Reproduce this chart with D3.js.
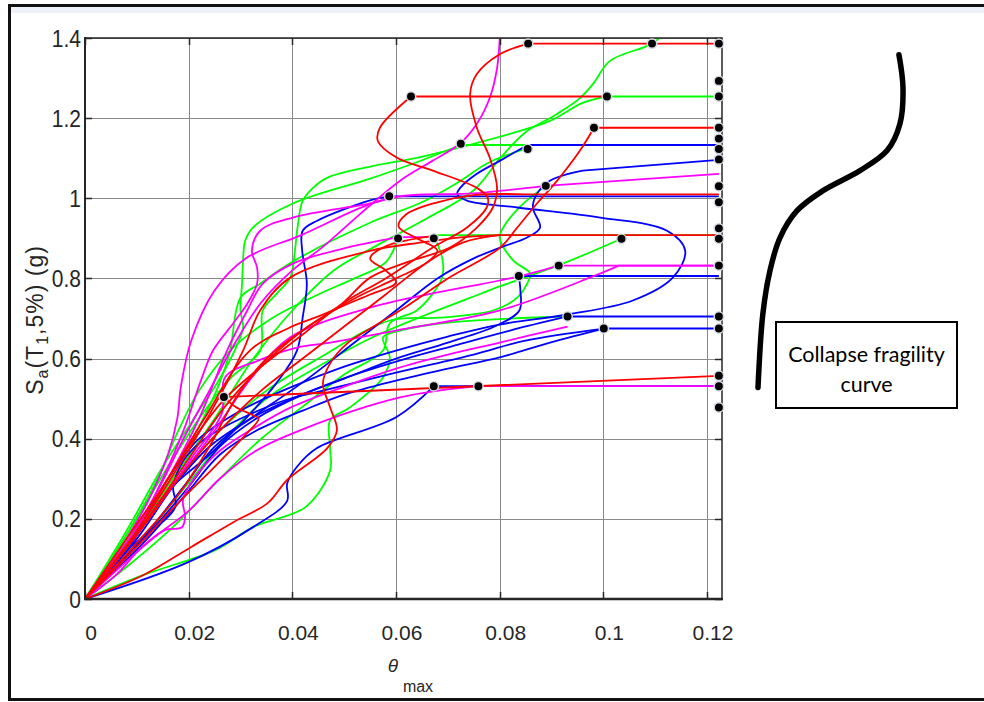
<!DOCTYPE html>
<html>
<head>
<meta charset="utf-8">
<script src="https://cdn.jsdelivr.net/npm/d3@7"></script>
<style>
  body { margin: 0; background: #fff; }
  svg { display: block; }
  .tick-label { font-family: "Liberation Sans", Arial, sans-serif; fill: #262626; }
</style>
</head>
<body>
<div id="chart"></div>
<script>
// Axis ticks
var xTicks = [0, 0.02, 0.04, 0.06, 0.08, 0.1, 0.12],
    xTickLabels = ["0", "0.02", "0.04", "0.06", "0.08", "0.1", "0.12"],
    yTicks = [0, 0.2, 0.4, 0.6, 0.8, 1.0, 1.2, 1.4],
    yTickLabels = ["0", "0.2", "0.4", "0.6", "0.8", "1", "1.2", "1.4"];

// IDA curves [theta_max, Sa(g)]
var g1 = [[0,0],[0.009,0.18],[0.016,0.33],[0.022,0.45],[0.028,0.55],[0.0338,0.62],[0.0343,0.72],[0.037,0.762],[0.0396,0.802],[0.0405,0.869],[0.041,0.927],[0.042,0.994],[0.044,1.026],[0.0467,1.051],[0.055,1.079],[0.064,1.101],[0.072,1.126],[0.082,1.161],[0.0897,1.193],[0.096,1.238],[0.1007,1.254],[0.1223,1.254]];
var g2 = [[0,0],[0.008,0.17],[0.015,0.33],[0.021,0.45],[0.026,0.55],[0.0295,0.638],[0.0305,0.678],[0.03,0.72],[0.0303,0.787],[0.0305,0.845],[0.0309,0.894],[0.0324,0.927],[0.0401,0.987],[0.055,1.049],[0.064,1.09],[0.0725,1.133],[0.1223,1.133]];
var g3 = [[0,0],[0.01,0.17],[0.018,0.32],[0.025,0.45],[0.0325,0.6],[0.04,0.72],[0.048,0.82],[0.056,0.88],[0.066,0.95],[0.075,1.02],[0.0801,1.1],[0.085,1.165],[0.091,1.21],[0.0955,1.25],[0.098,1.285],[0.1013,1.343],[0.1094,1.386],[0.1125,1.42]];
var g4 = [[0,0],[0.009,0.16],[0.016,0.3],[0.022,0.43],[0.026,0.54],[0.028,0.62],[0.03,0.752],[0.0338,0.787],[0.0401,0.842],[0.055,0.939],[0.065,0.99],[0.072,1.04],[0.078,1.09],[0.0854,1.125]];
var g5 = [[0,0],[0.008,0.08],[0.017,0.18],[0.026,0.3],[0.034,0.4],[0.042,0.48],[0.05,0.56],[0.0575,0.62],[0.0588,0.688],[0.064,0.72],[0.0671,0.762],[0.0689,0.802],[0.069,0.845],[0.0673,0.908],[0.1223,0.908]];
var g6 = [[0,0],[0.011,0.15],[0.02,0.29],[0.027,0.4],[0.035,0.5],[0.045,0.58],[0.055,0.65],[0.065,0.705],[0.074,0.75],[0.08,0.78],[0.0914,0.833],[0.1035,0.899]];
var g7 = [[0,0],[0.01,0.16],[0.018,0.3],[0.026,0.42],[0.035,0.52],[0.045,0.6],[0.0588,0.695],[0.0685,0.702],[0.0787,0.72],[0.0834,0.752],[0.0853,0.787],[0.0859,0.812],[0.0826,0.845],[0.08,0.902],[0.0807,0.927],[0.084,0.98],[0.0889,1.031]];
var g8 = [[0,0],[0.0113,0.06],[0.0251,0.122],[0.0325,0.18],[0.0426,0.23],[0.0473,0.321],[0.0473,0.376],[0.0473,0.446],[0.0511,0.478],[0.0575,0.553],[0.0588,0.603],[0.0575,0.653],[0.0608,0.67],[0.07,0.69],[0.0931,0.705]];
var g9 = [[0,0],[0.008,0.16],[0.014,0.3],[0.018,0.42],[0.022,0.52],[0.028,0.62],[0.036,0.7],[0.045,0.76],[0.052,0.8],[0.058,0.84],[0.0604,0.9]];

var b1 = [[0,0],[0.009,0.15],[0.016,0.3],[0.022,0.4],[0.03,0.47],[0.04,0.53],[0.05,0.58],[0.06,0.62],[0.07,0.655],[0.08,0.685],[0.0931,0.71],[0.1057,0.745],[0.1134,0.802],[0.1158,0.869],[0.1123,0.919],[0.0994,0.952],[0.0834,0.977],[0.0737,0.994],[0.0718,1.011],[0.0724,1.026],[0.0756,1.061],[0.0801,1.094],[0.0854,1.133],[0.1223,1.133]];
var b2 = [[0,0],[0.012,0.16],[0.02,0.28],[0.026,0.38],[0.033,0.45],[0.042,0.51],[0.052,0.56],[0.062,0.6],[0.072,0.635],[0.082,0.67],[0.0931,0.705],[0.1223,0.705]];
var b3 = [[0,0],[0.012,0.15],[0.02,0.27],[0.026,0.36],[0.033,0.42],[0.042,0.47],[0.05,0.51],[0.06,0.545],[0.07,0.575],[0.08,0.603],[0.0897,0.64],[0.1001,0.675],[0.1223,0.675]];
var b4 = [[0,0],[0.011,0.15],[0.019,0.28],[0.025,0.38],[0.032,0.45],[0.04,0.5],[0.05,0.55],[0.06,0.6],[0.07,0.64],[0.079,0.68],[0.0838,0.72],[0.084,0.77],[0.0837,0.806],[0.1223,0.806]];
var b5 = [[0,0],[0.01,0.15],[0.017,0.28],[0.024,0.38],[0.033,0.46],[0.043,0.55],[0.052,0.64],[0.06,0.72],[0.068,0.8],[0.075,0.85],[0.0801,0.877],[0.0853,0.902],[0.0878,0.927],[0.0864,0.977],[0.0872,1.011],[0.0897,1.044],[0.096,1.069],[0.1223,1.096]];
var b6 = [[0,0],[0.009,0.14],[0.016,0.27],[0.024,0.36],[0.031,0.45],[0.037,0.54],[0.0409,0.62],[0.042,0.703],[0.0428,0.787],[0.0419,0.869],[0.042,0.919],[0.0448,0.944],[0.055,0.995],[0.0587,1.005],[0.1223,1.005]];
var b7 = [[0,0],[0.0196,0.09],[0.0325,0.18],[0.039,0.245],[0.039,0.288],[0.0409,0.33],[0.0447,0.376],[0.0601,0.454],[0.0673,0.531],[0.1223,0.531]];
var b8 = [[0,0],[0.008,0.12],[0.0174,0.229],[0.017,0.279],[0.0187,0.339],[0.0212,0.379],[0.0257,0.421],[0.0322,0.463],[0.0386,0.496],[0.0463,0.521],[0.06,0.565],[0.075,0.61],[0.085,0.645],[0.1001,0.675]];

var m1 = [[0,0],[0.007,0.13],[0.012,0.24],[0.016,0.36],[0.0178,0.45],[0.0185,0.53],[0.0205,0.645],[0.025,0.77],[0.031,0.85],[0.0415,0.907],[0.0587,1.0],[0.075,1.012],[0.0889,1.031],[0.1223,1.061]];
var m2 = [[0,0],[0.009,0.15],[0.015,0.3],[0.019,0.42],[0.0225,0.55],[0.0247,0.62],[0.0286,0.688],[0.0313,0.737],[0.0332,0.787],[0.0332,0.827],[0.0322,0.869],[0.0338,0.919],[0.0401,0.952],[0.055,0.987],[0.0587,1.0]];
var m3 = [[0,0],[0.008,0.14],[0.014,0.27],[0.019,0.4],[0.024,0.52],[0.029,0.64],[0.034,0.74],[0.04,0.82],[0.046,0.88],[0.053,0.96],[0.0608,1.044],[0.0671,1.094],[0.0723,1.136],[0.0756,1.186],[0.0781,1.251],[0.0795,1.325],[0.0801,1.42]];
var m4 = [[0,0],[0.009,0.15],[0.016,0.3],[0.022,0.45],[0.0274,0.62],[0.0313,0.72],[0.0343,0.787],[0.0401,0.837],[0.05,0.875],[0.0604,0.903],[0.0673,0.903]];
var m5 = [[0,0],[0.008,0.13],[0.015,0.25],[0.021,0.36],[0.0264,0.463],[0.027,0.553],[0.0334,0.595],[0.0411,0.628],[0.0463,0.638],[0.06,0.67],[0.08,0.72],[0.098,0.805],[0.103,0.832],[0.1223,0.832]];
var m6 = [[0,0],[0.013,0.15],[0.02,0.22],[0.026,0.3],[0.033,0.37],[0.0415,0.421],[0.0608,0.503],[0.0759,0.531],[0.1223,0.531]];
var m7 = [[0,0],[0.006,0.06],[0.011,0.13],[0.0154,0.172],[0.0187,0.179],[0.0193,0.204],[0.0189,0.247],[0.021,0.3],[0.026,0.37],[0.033,0.43],[0.04,0.48],[0.05,0.53],[0.06,0.575],[0.07,0.61],[0.08,0.64],[0.0931,0.68]];
var m8 = [[0,0],[0.01,0.16],[0.018,0.3],[0.025,0.42],[0.032,0.55],[0.0396,0.653],[0.055,0.727],[0.07,0.77],[0.082,0.8],[0.0914,0.832],[0.1223,0.832]];

var r1 = [[0,0],[0.009,0.15],[0.016,0.3],[0.023,0.45],[0.0318,0.62],[0.0396,0.678],[0.0486,0.727],[0.055,0.802],[0.062,0.84],[0.0704,0.877],[0.0756,0.927],[0.0787,0.977],[0.0795,1.026],[0.0781,1.101],[0.0756,1.176],[0.0743,1.26],[0.0756,1.31],[0.0801,1.36],[0.0855,1.386],[0.1223,1.386]];
var r2 = [[0,0],[0.008,0.15],[0.015,0.28],[0.021,0.4],[0.027,0.5],[0.034,0.58],[0.042,0.66],[0.05,0.74],[0.058,0.8],[0.0671,0.877],[0.0737,0.927],[0.0775,0.977],[0.0777,1.001],[0.0756,1.026],[0.0671,1.069],[0.0602,1.101],[0.0565,1.143],[0.0569,1.176],[0.0629,1.254],[0.1007,1.254]];
var r3 = [[0,0],[0.01,0.14],[0.018,0.26],[0.024,0.38],[0.029,0.5],[0.035,0.6],[0.043,0.68],[0.052,0.75],[0.06,0.8],[0.066,0.84],[0.068,0.87],[0.064,0.9],[0.0605,0.93],[0.062,0.96],[0.068,0.99],[0.075,1.008],[0.085,1.01],[0.1223,1.01]];
var r4 = [[0,0],[0.012,0.2],[0.02,0.35],[0.027,0.48],[0.034,0.58],[0.041,0.66],[0.048,0.72],[0.055,0.76],[0.06,0.79],[0.058,0.82],[0.055,0.85],[0.058,0.88],[0.0673,0.906]];
var r5 = [[0,0],[0.01,0.16],[0.018,0.3],[0.026,0.42],[0.034,0.52],[0.042,0.6],[0.05,0.68],[0.058,0.76],[0.066,0.84],[0.073,0.89],[0.08,0.908],[0.1223,0.908]];
var r6 = [[0,0],[0.01,0.13],[0.018,0.24],[0.025,0.33],[0.031,0.41],[0.0335,0.45],[0.0325,0.458],[0.029,0.48],[0.0268,0.504],[0.1223,0.557]];
var r7 = [[0,0],[0.0113,0.06],[0.0205,0.13],[0.0288,0.193],[0.0353,0.24],[0.039,0.297],[0.0467,0.376],[0.0486,0.421],[0.0473,0.478],[0.0459,0.538],[0.0473,0.588],[0.0506,0.638],[0.0544,0.67],[0.062,0.73],[0.07,0.8],[0.0801,0.877],[0.0834,0.927],[0.0872,0.987],[0.0911,1.044],[0.0955,1.119],[0.0982,1.176],[0.1223,1.176]];
var r8 = [[0,0],[0.01,0.17],[0.018,0.33],[0.024,0.46],[0.0305,0.62],[0.0338,0.72],[0.0396,0.802],[0.055,0.869],[0.065,0.89],[0.073,0.903],[0.08,0.908]];

var greenCurves = [g1, g2, g3, g4, g5, g6, g7, g8, g9],
    blueCurves = [b1, b2, b3, b4, b5, b6, b7, b8],
    magentaCurves = [m1, m2, m3, m4, m5, m6, m7, m8],
    redCurves = [r1, r2, r3, r4, r5, r6, r7, r8];

// Collapse points and the markers on the right edge
var collapsePoints = [[0.0855,1.386],[0.1094,1.386],[0.0629,1.254],[0.1007,1.254],[0.0982,1.176],[0.0725,1.136],[0.0854,1.123],[0.0889,1.031],[0.0587,1.005],[0.0604,0.9],[0.0673,0.9],[0.1035,0.899],[0.0914,0.832],[0.0837,0.806],[0.0931,0.705],[0.1001,0.675],[0.0268,0.504],[0.0673,0.531],[0.0759,0.531]];
var edgeTheta = 0.1223,
    edgeSa = [1.386, 1.293, 1.254, 1.176, 1.149, 1.123, 1.097, 1.030, 0.990, 0.925, 0.899, 0.832, 0.705, 0.675, 0.557, 0.531, 0.478];

// Sketch of the collapse fragility curve (probability vs Sa)
var fragilitySa = [0.528, 0.713, 0.820, 0.902, 0.969, 1.019, 1.069, 1.119, 1.186, 1.276, 1.358],
    fragilityP = [0, 0.034, 0.083, 0.152, 0.269, 0.448, 0.703, 0.89, 0.979, 1.0, 0.972];

function drawChart() {
    "use strict";
    var width = 984, height = 702,
        pLeft = 85, pRight = 722, pTop = 38, pBottom = 599;

    var svg = d3.select("#chart").append("svg")
        .attr("width", width)
        .attr("height", height);

    // Outer frame
    svg.append("rect")
        .attr("x", 0).attr("y", 0).attr("width", width).attr("height", height)
        .attr("fill", "#fff");
    svg.append("rect")
        .attr("x", 11).attr("y", 7).attr("width", width).attr("height", 6)
        .attr("fill", "#edf2f9");
    svg.append("rect")
        .attr("x", 9.5).attr("y", 5.5).attr("width", width + 20).attr("height", 694)
        .attr("fill", "none")
        .attr("stroke", "#111")
        .attr("stroke-width", 3);

    var x = d3.scaleLinear().domain([0, 0.1229]).range([pLeft, pRight]),
        y = d3.scaleLinear().domain([0, 1.4]).range([pBottom, pTop]);

    // Grid
    var grid = svg.append("g").attr("stroke", "#8a8a8a").attr("stroke-width", 1);
    grid.selectAll(".gx").data(xTicks.slice(1)).enter().append("line")
        .attr("x1", function (d) { return Math.round(x(d)) + 0.5; })
        .attr("x2", function (d) { return Math.round(x(d)) + 0.5; })
        .attr("y1", pTop).attr("y2", pBottom);
    grid.selectAll(".gy").data(yTicks.slice(1)).enter().append("line")
        .attr("y1", function (d) { return Math.round(y(d)) + 0.5; })
        .attr("y2", function (d) { return Math.round(y(d)) + 0.5; })
        .attr("x1", pLeft).attr("x2", pRight);

    // Curves
    svg.append("clipPath").attr("id", "plot-clip")
        .append("rect")
        .attr("x", pLeft).attr("y", pTop)
        .attr("width", pRight - pLeft).attr("height", pBottom - pTop);

    var line = d3.line()
        .x(function (d) { return x(d[0]); })
        .y(function (d) { return y(d[1]); })
        .curve(d3.curveCatmullRom.alpha(0.5));

    // smooth curve up to the collapse point, then a straight run to the edge
    function curvePath(pts) {
        var n = pts.length, last = pts[n - 1];
        if (n > 2 && (last[0] > 0.12 || pts[n - 2][1] === last[1])) {
            return line(pts.slice(0, n - 1)) + "L" + x(last[0]) + "," + y(last[1]);
        }
        return line(pts);
    }

    var plot = svg.append("g").attr("clip-path", "url(#plot-clip)");

    function drawCurves(curves, colour) {
        plot.selectAll(null).data(curves).enter().append("path")
            .attr("fill", "none")
            .attr("stroke", colour)
            .attr("stroke-width", 1.8)
            .attr("stroke-linejoin", "round")
            .attr("d", curvePath);
    }
    drawCurves(greenCurves, "#00ff00");
    drawCurves(blueCurves, "#0000ff");
    drawCurves(magentaCurves, "#ff00ff");
    drawCurves(redCurves, "#ff0000");

    // Axes box with inward ticks on all sides
    var box = svg.append("g").attr("stroke", "#262626").attr("fill", "none");
    box.append("rect")
        .attr("x", pLeft).attr("y", pTop)
        .attr("width", pRight - pLeft).attr("height", pBottom - pTop)
        .attr("stroke-width", 1.5);
    box.append("line")
        .attr("x1", pLeft - 1).attr("x2", pRight + 1)
        .attr("y1", pBottom).attr("y2", pBottom)
        .attr("stroke-width", 2.5);
    box.append("line")
        .attr("x1", pLeft).attr("x2", pLeft)
        .attr("y1", pTop - 1).attr("y2", pBottom + 1)
        .attr("stroke-width", 2);

    xTicks.forEach(function (t) {
        var px = Math.round(x(t)) + 0.5;
        box.append("line").attr("x1", px).attr("x2", px).attr("y1", pBottom).attr("y2", pBottom - 7).attr("stroke-width", 1.5);
        box.append("line").attr("x1", px).attr("x2", px).attr("y1", pTop).attr("y2", pTop + 7).attr("stroke-width", 1.5);
    });
    yTicks.forEach(function (t) {
        var py = Math.round(y(t)) + 0.5;
        box.append("line").attr("y1", py).attr("y2", py).attr("x1", pLeft).attr("x2", pLeft + 7).attr("stroke-width", 1.5);
        box.append("line").attr("y1", py).attr("y2", py).attr("x1", pRight).attr("x2", pRight - 7).attr("stroke-width", 1.5);
    });

    // Tick labels
    svg.selectAll(".xl").data(xTicks).enter().append("text")
        .attr("class", "tick-label")
        .attr("x", function (d) { return x(d) + 6; })
        .attr("y", 640)
        .attr("text-anchor", "middle")
        .style("font-size", "21px")
        .text(function (d, i) { return xTickLabels[i]; });

    svg.selectAll(".yl").data(yTicks).enter().append("text")
        .attr("class", "tick-label")
        .attr("transform", function (d) { return "translate(" + (pLeft - 4) + "," + y(d) + ") scale(1,1.13)"; })
        .attr("dy", "0.36em")
        .attr("text-anchor", "end")
        .style("font-size", "21px")
        .text(function (d, i) { return yTickLabels[i]; });

    // Axis titles
    var yTitle = svg.append("text")
        .attr("class", "tick-label")
        .attr("transform", "translate(43,320) rotate(-90)")
        .attr("text-anchor", "middle")
        .style("font-size", "23px")
        .style("letter-spacing", "1px");
    yTitle.append("tspan").text("S");
    yTitle.append("tspan").attr("dy", 5).style("font-size", "16px").text("a");
    yTitle.append("tspan").attr("dy", -5).text("(T");
    yTitle.append("tspan").attr("dy", 5).style("font-size", "16px").text("1");
    yTitle.append("tspan").attr("dy", -5).text(",5%) (g)");

    svg.append("text")
        .attr("class", "tick-label")
        .attr("x", 393).attr("y", 672)
        .attr("text-anchor", "middle")
        .style("font-size", "19px")
        .style("font-style", "italic")
        .text("\u03b8");
    svg.append("text")
        .attr("class", "tick-label")
        .attr("x", 418).attr("y", 692)
        .attr("text-anchor", "middle")
        .style("font-size", "16px")
        .text("max");

    // Fragility curve sketch
    var pScale = d3.scaleLinear().domain([0, 1]).range([758, 903]);
    var fragility = d3.line()
        .x(function (d, i) { return pScale(fragilityP[i]); })
        .y(function (d) { return y(d); })
        .curve(d3.curveCatmullRom.alpha(0.5));
    svg.append("path")
        .datum(fragilitySa)
        .attr("d", fragility)
        .attr("fill", "none")
        .attr("stroke", "#000")
        .attr("stroke-width", 5.5)
        .attr("stroke-linecap", "round");

    svg.append("rect")
        .attr("x", 776).attr("y", 322).attr("width", 181).attr("height", 86)
        .attr("fill", "#fff")
        .attr("stroke", "#000")
        .attr("stroke-width", 2);
    svg.append("text")
        .attr("x", 866.5).attr("y", 362)
        .attr("text-anchor", "middle")
        .style("font-family", "Lato, 'Open Sans', sans-serif")
        .style("font-size", "21.5px")
        .text("Collapse fragility");
    svg.append("text")
        .attr("x", 866.5).attr("y", 392)
        .attr("text-anchor", "middle")
        .style("font-family", "Lato, 'Open Sans', sans-serif")
        .style("font-size", "21.5px")
        .text("curve");

    // Collapse markers
    var dots = svg.append("g");
    dots.selectAll(".cp").data(collapsePoints).enter().append("circle")
        .attr("cx", function (d) { return x(d[0]); })
        .attr("cy", function (d) { return y(d[1]); })
        .attr("r", 4.7)
        .attr("fill", "#000")
        .attr("stroke", "#d6dbe3")
        .attr("stroke-width", 1.5);
    dots.selectAll(".ep").data(edgeSa).enter().append("circle")
        .attr("cx", x(edgeTheta))
        .attr("cy", function (d) { return y(d); })
        .attr("r", 4.7)
        .attr("fill", "#000")
        .attr("stroke", "#d6dbe3")
        .attr("stroke-width", 1.5);
}

drawChart();
</script>
</body>
</html>
